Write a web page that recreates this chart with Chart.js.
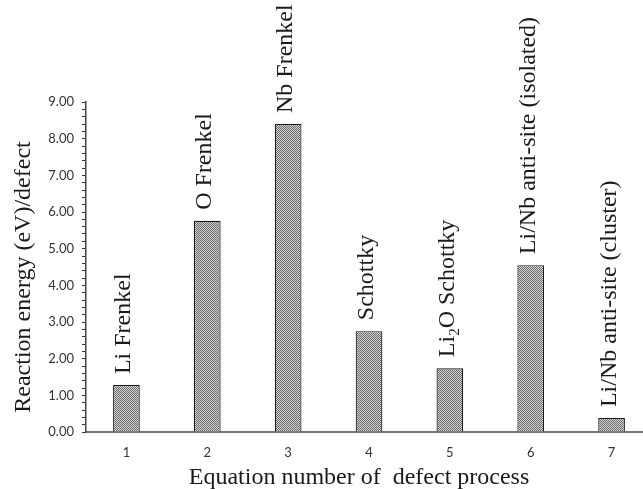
<!DOCTYPE html>
<html>
<head>
<meta charset="utf-8">
<script src="https://cdn.jsdelivr.net/npm/chart.js@4/dist/chart.umd.min.js"></script>
<style>
  html, body { margin: 0; padding: 0; background: #ffffff; overflow: hidden; }
  #wrap { width: 652px; height: 489px; }
</style>
</head>
<body>
<div id="wrap"><canvas id="chart" width="652" height="489"></canvas></div>
<script>
// Equation numbers of the defect processes (x categories)
const equationNumbers = ['1', '2', '3', '4', '5', '6', '7'];
// Name of each defect process, written above its bar
const processNames = [
  'Li Frenkel',
  'O Frenkel',
  'Nb Frenkel',
  'Schottky',
  'Li\u2082O Schottky',
  'Li/Nb anti-site (isolated)',
  'Li/Nb anti-site (cluster)'
];
// Reaction energy per defect, eV
const reactionEnergy = [1.28, 5.76, 8.40, 2.75, 1.74, 4.55, 0.38];
// Axis range and tick steps
const yMin = 0, yMax = 9, yMajorStep = 1, yMinorStep = 0.2;
// Axis titles
const xTitle = 'Equation number of  defect process';
const yTitle = 'Reaction energy (eV)/defect';

const SERIF = '"Liberation Serif", "DejaVu Serif", serif';
const SANS = 'Lato, "Open Sans", sans-serif';

// fine checkered fill for the bars
function checkerPattern() {
  const c = document.createElement('canvas');
  c.width = 2; c.height = 2;
  const g = c.getContext('2d');
  g.fillStyle = '#d4d4d4';
  g.fillRect(0, 0, 2, 2);
  g.fillStyle = '#6a6a6a';
  g.fillRect(0, 0, 1, 1);
  g.fillRect(1, 1, 1, 1);
  return g.createPattern(c, 'repeat');
}

// draws the rotated process names above the bars; subscript digits are lowered and shrunk
const barNamePlugin = {
  id: 'barNames',
  afterDatasetsDraw(chart) {
    const { ctx } = chart;
    const meta = chart.getDatasetMeta(0);
    const size = 24;
    ctx.save();
    ctx.fillStyle = '#1a1a1a';
    ctx.textAlign = 'left';
    ctx.textBaseline = 'alphabetic';
    meta.data.forEach((bar, i) => {
      const text = processNames[i];
      ctx.save();
      ctx.translate(bar.x + 4, bar.y - 11);
      ctx.rotate(-Math.PI / 2);
      let pos = 0;
      for (const ch of text) {
        const code = ch.charCodeAt(0);
        if (code >= 0x2080 && code <= 0x2089) {
          const digit = String(code - 0x2080);
          ctx.font = Math.round(size * 0.62) + 'px ' + SERIF;
          ctx.fillText(digit, pos, size * 0.2);
          pos += ctx.measureText(digit).width;
        } else {
          ctx.font = size + 'px ' + SERIF;
          ctx.fillText(ch, pos, 0);
          pos += ctx.measureText(ch).width;
        }
      }
      ctx.restore();
    });
    ctx.restore();
  }
};

// axis titles, placed relative to the plot area
const axisTitlePlugin = {
  id: 'axisTitles',
  afterDraw(chart) {
    const { ctx, chartArea: a } = chart;
    ctx.save();
    ctx.fillStyle = '#1a1a1a';
    ctx.font = '24px ' + SERIF;
    ctx.textAlign = 'center';
    ctx.textBaseline = 'alphabetic';
    ctx.fillText(xTitle, (a.left + a.right) / 2 - 10, a.bottom + 52);
    ctx.translate(a.left - 56, (a.top + a.bottom) / 2 + 10);
    ctx.rotate(-Math.PI / 2);
    ctx.fillText(yTitle, 0, 0);
    ctx.restore();
  }
};

new Chart(document.getElementById('chart'), {
  type: 'bar',
  data: {
    labels: equationNumbers,
    datasets: [{
      data: reactionEnergy,
      backgroundColor: checkerPattern(),
      borderColor: '#1a1a1a',
      borderWidth: 1.2,
      borderSkipped: 'bottom',
      barPercentage: 0.33,
      categoryPercentage: 1.0
    }]
  },
  options: {
    responsive: false,
    animation: false,
    layout: { padding: { top: 102, left: 0, right: 0, bottom: 0 } },
    plugins: { legend: { display: false }, tooltip: { enabled: false } },
    scales: {
      x: {
        grid: { display: false, drawTicks: false },
        border: { display: true, color: '#777777', width: 2 },
        ticks: { color: '#333333', font: { family: SANS, size: 13 }, padding: 13 },
        afterFit(scale) { scale.height = 57; }
      },
      y: {
        min: yMin,
        max: yMax,
        grid: {
          display: true,
          drawOnChartArea: false,
          drawTicks: true,
          tickLength: 4,
          color: '#333333',
          lineWidth: 1
        },
        border: { display: true, color: '#444444', width: 1.5 },
        ticks: {
          stepSize: yMinorStep,
          autoSkip: false,
          padding: 8,
          color: '#333333',
          font: { family: SANS, size: 13 },
          callback(value) {
            const r = Math.round(value / yMajorStep) * yMajorStep;
            return Math.abs(value - r) < 1e-6 ? r.toFixed(2) : '';
          }
        },
        afterFit(scale) { scale.width = 86; }
      }
    }
  },
  plugins: [barNamePlugin, axisTitlePlugin]
});
</script>
</body>
</html>
